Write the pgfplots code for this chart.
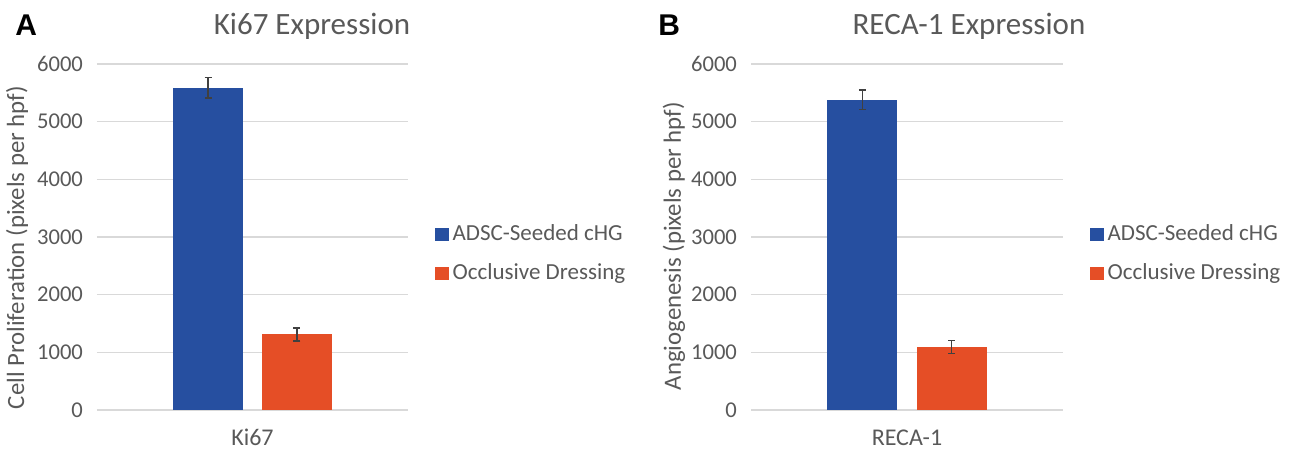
\documentclass[border=0pt]{standalone}
\usepackage{fontspec}
\setmainfont{Carlito}
\newfontfamily\letterfont{Liberation Sans}
\usepackage{pgfplots}
\pgfplotsset{compat=1.18}
\definecolor{barblue}{RGB}{38,79,160}
\definecolor{barorange}{RGB}{229,78,38}
\definecolor{txtgray}{RGB}{89,89,89}
\definecolor{gridgray}{RGB}{217,217,217}
\definecolor{errgray}{RGB}{64,64,64}

\pgfplotsset{
  panel/.style={
    scale only axis, height=173pt,
    ymin=0, ymax=6000, ytick={0,1000,...,6000},
    xmin=-0.5, xmax=0.5, xtick={0},
    axis line style={draw=none}, major tick length=0pt,
    ymajorgrids, grid style={gridgray, line width=0.75pt},
    tick label style={font=\fontsize{11.3}{13}\selectfont, text=txtgray},
    /pgf/number format/assume math mode=true,
    /pgf/number format/set thousands separator={},
    yticklabel style={xshift=-3.5pt},
    xticklabel style={anchor=base, yshift=-17.85pt, font=\fontsize{12}{14}\selectfont},
    ybar, bar width=0.225,
    legend style={at={(1,0.451)}, anchor=west, xshift=10.5pt, draw=none, fill=none,
      font=\fontsize{11.5}{13}\selectfont, text=txtgray, row sep=6pt},
    legend cell align=left,
    legend image code/.code={\draw[#1,draw=none] (-1.5pt,-3.3pt) rectangle (5.1pt,3.3pt);},
    clip=false,
  },
  bluebar/.style={fill=barblue, draw=none, bar shift=0pt,
    error bars/.cd, y dir=both, y explicit,
    error bar style={line width=0.75pt, errgray},
    error mark options={rotate=90, mark size=1.75pt, line width=0.75pt, errgray}},
  orangebar/.style={fill=barorange, draw=none, bar shift=0pt,
    error bars/.cd, y dir=both, y explicit,
    error bar style={line width=0.75pt, errgray},
    error mark options={rotate=90, mark size=1.75pt, line width=0.75pt, errgray}},
}

\begin{document}
\begin{tikzpicture}
\useasboundingbox (0,0) rectangle (648.5pt,226.5pt);

% panel A
\begin{axis}[panel, at={(48.5pt,21.5pt)}, anchor=south west, width=155.5pt,
  xticklabels={Ki67}]
\addplot[bluebar] coordinates {(-0.143,5590) +- (0,180)};
\addplot[orangebar] coordinates {(0.143,1310) +- (0,110)};
\legend{ADSC-Seeded cHG, Occlusive Dressing}
\end{axis}

% panel B
\begin{axis}[panel, at={(375.5pt,21.5pt)}, anchor=south west, width=156pt,
  xticklabels={RECA-1}]
\addplot[bluebar] coordinates {(-0.143,5380) +- (0,170)};
\addplot[orangebar] coordinates {(0.143,1090) +- (0,113)};
\legend{ADSC-Seeded cHG, Occlusive Dressing}
\end{axis}

\node[anchor=base west, inner sep=0pt, font=\letterfont\bfseries\fontsize{15}{18}\selectfont]
  at (7.5pt,208.5pt) {A};
\node[anchor=base west, inner sep=0pt, font=\letterfont\bfseries\fontsize{15}{18}\selectfont]
  at (329pt,208.5pt) {B};
\node[anchor=base, inner sep=0pt, text=txtgray, font=\fontsize{15.5}{18}\selectfont]
  at (156pt,209pt) {Ki67 Expression};
\node[anchor=base, inner sep=0pt, text=txtgray, font=\fontsize{15.5}{18}\selectfont]
  at (484.5pt,209pt) {RECA-1 Expression};
\node[rotate=90, inner sep=0pt, text=txtgray, font=\fontsize{12.4}{14}\selectfont]
  at (8.5pt,102.75pt) {Cell Proliferation (pixels per hpf)};
\node[rotate=90, inner sep=0pt, text=txtgray, font=\fontsize{12.4}{14}\selectfont]
  at (337pt,103.5pt) {Angiogenesis (pixels per hpf)};
\end{tikzpicture}
\end{document}
